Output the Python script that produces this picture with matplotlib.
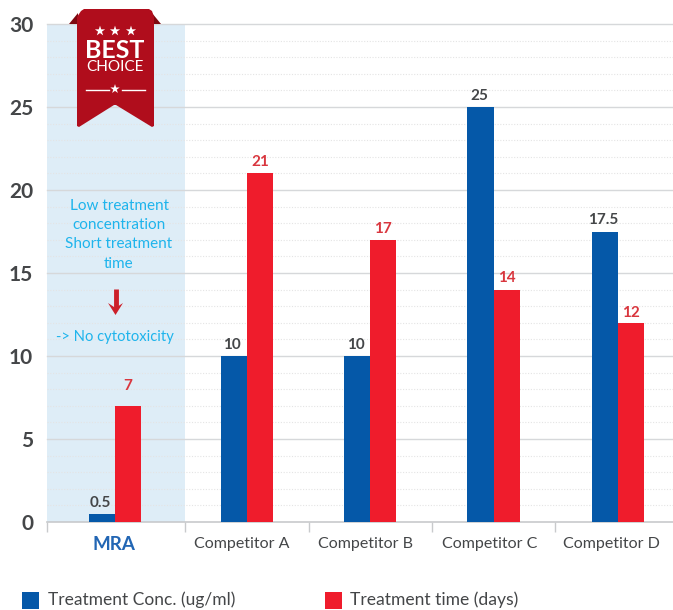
import matplotlib
matplotlib.use("Agg")
import matplotlib.pyplot as plt
from matplotlib.patches import Polygon, Rectangle

plt.rcParams["font.family"] = ["Lato", "DejaVu Sans"]

categories = ["MRA", "Competitor A", "Competitor B", "Competitor C", "Competitor D"]
conc = [0.5, 10, 10, 25, 17.5]
days = [7, 21, 17, 14, 12]
conc_labels = ["0.5", "10", "10", "25", "17.5"]
day_labels = ["7", "21", "17", "14", "12"]
x_pos = [0, 1.07, 2.07, 3.07, 4.08]
x_edges = [-0.55, 0.57, 1.57, 2.57, 3.57]
label_pos = [0, 1.03, 2.03, 3.04, 4.03]
y_ticks = [0, 5, 10, 15, 20, 25, 30]
panel_lines = ["Low treatment", "concentration", "Short treatment", "time"]
day_offsets = [9, 3, 3, 3, 2]

BLUE = "#0558a8"
RED = "#ef1c2c"
GREY = "#444648"
CYAN = "#1eb4ec"
DARKRED = "#b00d1c"

W, H = 673, 610
fig = plt.figure(figsize=(W / 100, H / 100), dpi=100)
ax = fig.add_axes([47 / W, (H - 522) / H, (W - 47) / W, 498 / H])

bar_w = 0.213
ax.set_xlim(-68 / 123.3, (W - 115) / 123.3)
ax.set_ylim(0, 30)

ax.axvspan(x_edges[0], x_edges[1], color="#deedf7", lw=0, zorder=0)

# grid
for v in range(1, 30):
    if v % 5:
        ax.axhline(v, color="#e4e4e4", lw=0.8, ls=(0, (1, 1.5)), zorder=1)
for v in y_ticks[1:]:
    ax.axhline(v, color="#d6d8da", lw=1, zorder=1, clip_on=False)

for i in range(len(categories)):
    ax.bar(x_pos[i] - bar_w / 2, conc[i], bar_w, color=BLUE, zorder=3)
    ax.bar(x_pos[i] + bar_w / 2, days[i], bar_w, color=RED, zorder=3)
    ax.annotate(conc_labels[i], (x_pos[i] - bar_w / 2, conc[i]), xytext=(-1, 3), textcoords="offset points",
                ha="center", va="bottom", fontsize=11, fontweight="bold", color=GREY, zorder=4)
    ax.annotate(day_labels[i], (x_pos[i] + bar_w / 2, days[i]), xytext=(0, day_offsets[i]), textcoords="offset points",
                ha="center", va="bottom", fontsize=11, fontweight="bold", color="#d9363e", zorder=4)

for s in ["top", "right", "left"]:
    ax.spines[s].set_visible(False)
ax.spines["bottom"].set_color("#c8cacc")
ax.spines["bottom"].set_linewidth(1.2)

ax.set_yticks(y_ticks)
ax.tick_params(axis="y", length=0, pad=10, labelsize=15, labelcolor=GREY)
for t in ax.get_yticklabels():
    t.set_fontweight("bold")
    t.set_y(t.get_position()[1])
ax.set_xticks(x_edges)
ax.set_xticklabels([])
ax.tick_params(axis="x", length=7, width=1, color="#c8cacc")

for i, name in enumerate(categories):
    if i == 0:
        ax.annotate(name, (label_pos[i], 0), xytext=(-1, -10), textcoords="offset points", ha="center", va="top",
                    fontsize=13.5, fontweight="bold", color="#2266b4")
    else:
        ax.annotate(name, (label_pos[i], 0), xytext=(0, -11), textcoords="offset points", ha="center", va="top",
                    fontsize=11.5, color=GREY)

# overlay in pixel coordinates for the badge, note and legend
ov = fig.add_axes([0, 0, 1, 1], zorder=5)
ov.set_xlim(0, W)
ov.set_ylim(H, 0)
ov.axis("off")

# note text
for line, y in zip(panel_lines, [205.5, 225, 244, 264]):
    ov.text(119, y, line, ha="center", va="center", fontsize=11, color=CYAN)
ov.text(115, 337, "-> No cytotoxicity", ha="center", va="center", fontsize=10.6, color=CYAN)
ov.plot([115.5, 115.5], [289, 308], color="#cc2029", lw=3.5, solid_capstyle="butt")
ov.add_patch(Polygon([[108, 303], [115.5, 315], [123, 303], [115.5, 308]], color="#cc2029", lw=0))

# badge
ov.add_patch(Polygon([[69, 24], [78, 13], [78, 24]], color="#7e0810", lw=0))
ov.add_patch(Polygon([[161, 24], [152, 13], [152, 24]], color="#7e0810", lw=0))
ov.add_patch(Polygon([[77, 17], [81, 11], [84, 9], [149, 9], [152, 11], [154, 17], [154, 126], [152, 127],
                      [116, 105], [114, 105], [79, 127], [77, 126]], color=DARKRED, lw=0))
ov.scatter([100, 115, 131, 115], [31, 31, 31, 89], marker="*", s=[60, 60, 60, 50], color="white", lw=0)
ov.text(115, 50, "BEST", ha="center", va="center", fontsize=18, fontweight="bold", color="white")
ov.text(115, 67, "CHOICE", ha="center", va="center", fontsize=11, color="white")
ov.plot([86, 109], [89.5, 89.5], color="white", lw=1)
ov.plot([122, 145], [89.5, 89.5], color="white", lw=1)

# legend
ov.add_patch(Rectangle((22, 592), 17, 17, color=BLUE, lw=0))
ov.text(48, 600, "Treatment Conc. (ug/ml)", ha="left", va="center", fontsize=12.5, color=GREY)
ov.add_patch(Rectangle((325, 592), 17, 17, color=RED, lw=0))
ov.text(350, 600, "Treatment time (days)", ha="left", va="center", fontsize=12.6, color=GREY)

fig.savefig("out.png", dpi=100)
